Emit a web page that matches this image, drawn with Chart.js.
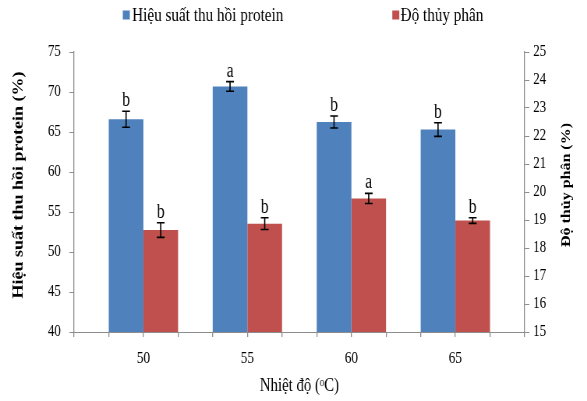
<!DOCTYPE html>
<html>
<head>
<meta charset="utf-8">
<script src="https://cdn.jsdelivr.net/npm/chart.js@4/dist/chart.umd.min.js"></script>
<style>
  html, body { margin: 0; padding: 0; background: #fff; overflow: hidden; }
  /* the figure is drawn wide and then narrowed horizontally (condensed serif look) */
  #wrap { width: 753px; height: 401px; transform: scaleX(0.7796); transform-origin: 0 0; }
  canvas { display: block; }
</style>
</head>
<body>
<div id="wrap"><canvas id="c" width="753" height="401"></canvas></div>
<script>
// Temperature levels (°C)
const temperatures = [50, 55, 60, 65];

// Protein recovery yield (%), left axis
const recoveryYield = [66.6, 70.7, 66.25, 65.3];
const recoveryErr = [1.0, 0.6, 0.75, 0.85];
const recoveryGroups = ['b', 'a', 'b', 'b'];

// Degree of hydrolysis (%), right axis
const hydrolysisDegree = [18.64, 18.87, 19.77, 18.98];
const hydrolysisErr = [0.26, 0.21, 0.18, 0.1];
const hydrolysisGroups = ['b', 'b', 'a', 'b'];

const seriesNames = ['Hiệu suất thu hồi protein', 'Độ thủy phân'];
const leftTitle = 'Hiệu suất thu hồi protein (%)';
const rightTitle = 'Độ thủy phân (%)';
const xTitle = 'Nhiệt độ (ᵒC)';

const FONT = 'Liberation Serif';
const AXIS_GREY = '#8c8c8c';
const BLUE = '#4F81BD';
const RED = '#C0504D';

// category spacing and the axis subdivisions (each group = 2 bars + 1 gap)
const step = temperatures[1] - temperatures[0];
const sub = step / 3;
const xMin = temperatures[0] - 2 * sub;
const xMax = temperatures[temperatures.length - 1] + 2 * sub;
const xTickValues = [];
for (let k = 0; k <= Math.round((xMax - xMin) / sub); k++) xTickValues.push(xMin + k * sub);

const toPoints = (vals) => vals.map((v, i) => ({ x: temperatures[i], y: v }));

// error bars and significance letters above each bar
const errorBars = {
  id: 'errorBars',
  afterDatasetsDraw(chart) {
    const ctx = chart.ctx;
    chart.data.datasets.forEach((ds, i) => {
      const meta = chart.getDatasetMeta(i);
      const ys = chart.scales[ds.yAxisID];
      meta.data.forEach((bar, j) => {
        const v = ds.data[j].y, e = ds.errors[j];
        const top = ys.getPixelForValue(v + e);
        const bot = ys.getPixelForValue(v - e);
        ctx.save();
        ctx.strokeStyle = '#000';
        ctx.lineWidth = 1.6;
        ctx.beginPath();
        ctx.moveTo(bar.x, top); ctx.lineTo(bar.x, bot);
        ctx.moveTo(bar.x - 5, top); ctx.lineTo(bar.x + 5, top);
        ctx.moveTo(bar.x - 5, bot); ctx.lineTo(bar.x + 5, bot);
        ctx.stroke();
        ctx.font = '20px "' + FONT + '"';
        ctx.fillStyle = '#000';
        ctx.textAlign = 'center';
        ctx.textBaseline = 'alphabetic';
        ctx.fillText(ds.groups[j], bar.x, top - 5);
        ctx.restore();
      });
    });
  }
};

// legend row across the top and the two rotated axis titles
const decorations = {
  id: 'decorations',
  afterDraw(chart) {
    const ctx = chart.ctx;
    ctx.save();
    const items = [
      { box: 157.5, text: 169.5 },
      { box: 503.2, text: 513.8 }
    ];
    chart.data.datasets.forEach((ds, i) => {
      ctx.fillStyle = ds.backgroundColor;
      ctx.fillRect(items[i].box, 10.5, 9, 9);
      ctx.fillStyle = '#000';
      ctx.font = '19.5px "' + FONT + '"';
      ctx.textAlign = 'left';
      ctx.textBaseline = 'alphabetic';
      ctx.fillText(ds.label, items[i].text, 20.5);
    });

    const drawRotated = (text, x, y, size) => {
      ctx.save();
      ctx.translate(x, y);
      ctx.rotate(-Math.PI / 2);
      ctx.font = 'bold ' + size + 'px "' + FONT + '"';
      ctx.fillStyle = '#000';
      ctx.textAlign = 'center';
      ctx.textBaseline = 'middle';
      ctx.fillText(text, 0, 0);
      ctx.restore();
    };
    drawRotated(leftTitle, 24.5, 185, 18);
    drawRotated(rightTitle, 726.5, 185, 16);
    ctx.restore();
  }
};

new Chart(document.getElementById('c'), {
  type: 'bar',
  data: {
    datasets: [
      {
        label: seriesNames[0],
        data: toPoints(recoveryYield),
        errors: recoveryErr,
        groups: recoveryGroups,
        backgroundColor: BLUE,
        xAxisID: 'xb',
        yAxisID: 'y'
      },
      {
        label: seriesNames[1],
        data: toPoints(hydrolysisDegree),
        errors: hydrolysisErr,
        groups: hydrolysisGroups,
        backgroundColor: RED,
        xAxisID: 'xb',
        yAxisID: 'y2'
      }
    ]
  },
  options: {
    responsive: false,
    animation: false,
    layout: { padding: { top: 52, left: 0, right: 0, bottom: 0 } },
    datasets: { bar: { categoryPercentage: 2 / 3, barPercentage: 1, borderWidth: 0 } },
    plugins: { legend: { display: false }, tooltip: { enabled: false } },
    scales: {
      xb: {
        type: 'linear',
        display: false,
        position: 'bottom',
        min: xMin,
        max: xMax,
        offset: false,
        grid: { offset: false },
        afterBuildTicks(s) { s.ticks = temperatures.map(v => ({ value: v })); }
      },
      x: {
        type: 'linear',
        position: 'bottom',
        min: xMin,
        max: xMax,
        offset: false,
        grid: { offset: false, drawOnChartArea: false, tickLength: 5, color: AXIS_GREY, lineWidth: 1.3 },
        border: { color: AXIS_GREY, width: 1 },
        afterBuildTicks(s) { s.ticks = xTickValues.map(v => ({ value: v })); },
        ticks: {
          autoSkip: false,
          maxRotation: 0,
          padding: 11.5,
          color: '#000',
          font: { family: FONT, size: 17 },
          callback(v) {
            const t = temperatures.find(t => Math.abs(t - v) < 1e-6);
            return t === undefined ? '' : String(t);
          }
        },
        title: {
          display: true,
          text: xTitle,
          color: '#000',
          font: { family: FONT, size: 19 },
          padding: { top: 0, bottom: 4 }
        },
        afterFit(s) { s.height = 69; }
      },
      y: {
        position: 'left',
        min: 40,
        max: 75,
        ticks: { stepSize: 5, padding: 11, color: '#000', font: { family: FONT, size: 16.5 } },
        grid: { drawOnChartArea: false, tickLength: 6, color: AXIS_GREY, lineWidth: 1 },
        border: { color: AXIS_GREY, width: 1.3 },
        afterFit(s) { s.width = 95; }
      },
      y2: {
        position: 'right',
        min: 15,
        max: 25,
        ticks: { stepSize: 1, padding: 5, color: '#000', font: { family: FONT, size: 16.5 } },
        grid: { drawOnChartArea: false, tickLength: 6, color: AXIS_GREY, lineWidth: 1 },
        border: { color: AXIS_GREY, width: 1.3 },
        afterFit(s) { s.width = 80; }
      }
    }
  },
  plugins: [errorBars, decorations]
});
</script>
</body>
</html>
